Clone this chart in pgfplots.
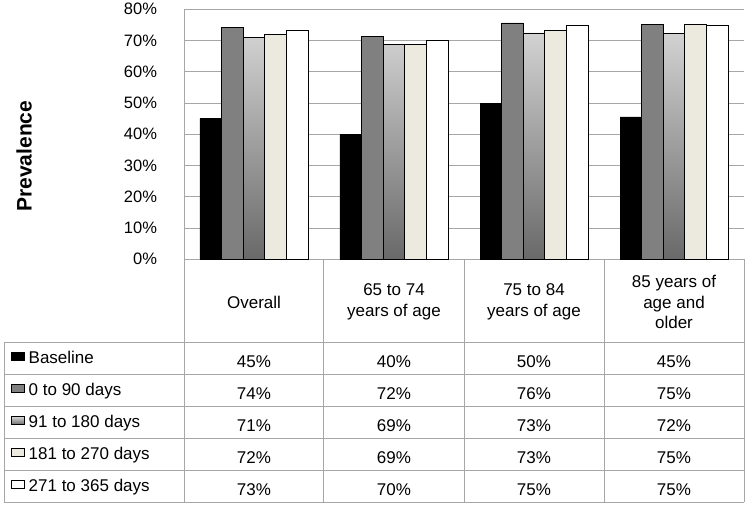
\documentclass[border=0pt]{standalone}
\usepackage{pgfplots}
\pgfplotsset{compat=1.18}
\usepackage{fontspec}
\setmainfont{Liberation Sans}
\definecolor{gridgray}{RGB}{166,166,166}
\definecolor{midgray}{RGB}{128,128,128}
\definecolor{beige}{RGB}{236,233,222}
\definecolor{gradtop}{RGB}{210,210,210}
\definecolor{gradbot}{RGB}{105,105,105}
\newcommand{\fs}{\fontsize{17}{20.7}\selectfont}
\newcommand{\ft}{\fontsize{16.5}{20}\selectfont}
\begin{document}
\begin{tikzpicture}
\begin{axis}[
  scale only axis, width=560pt, height=250pt,
  xmin=0, xmax=4, ymin=0, ymax=80,
  clip=false,
  axis x line*=bottom, axis y line*=left,
  axis line style={draw=gridgray, line width=0.8pt, -},
  xtick=\empty,
  ytick={0,10,...,80},
  yticklabel={\pgfmathprintnumber{\tick}\%},
  /pgf/number format/assume math mode=true,
  major tick length=0pt,
  ymajorgrids, grid style={draw=gridgray, line width=0.8pt},
  ticklabel style={font=\ft},
  yticklabel style={xshift=-23.5pt},
  ylabel={Prevalence},
  ylabel style={at={(axis description cs:-0.2857,0.412)}, anchor=center, font=\bfseries\fontsize{21}{25}\selectfont},
  ybar, bar width=0.1543,
  legend style={at={(axis cs:-1.2357,-26.56)}, anchor=north west, draw=none, fill=none,
    inner sep=0pt, row sep=0pt, column sep=3.7pt, font=\fs,
    nodes={inner ysep=0pt, inner xsep=0pt, text height=21.3pt, text depth=10.7pt}},
  legend cell align=left,
  legend image code/.code={\draw[#1, line width=0.8pt] (0pt,-0.22em) rectangle (13pt,0.55em);},
]
\addplot[draw=black, line width=0.8pt, fill=black, bar shift=-0.3086]
  coordinates {(0.5,45) (1.5,40) (2.5,49.7) (3.5,45.5)};
\addlegendentry{Baseline}
\addplot[draw=black, line width=0.8pt, fill=midgray, bar shift=-0.1543]
  coordinates {(0.5,74.2) (1.5,71.4) (2.5,75.6) (3.5,75.2)};
\addlegendentry{0 to 90 days}
\addplot[draw=black, line width=0.8pt, top color=gradtop, bottom color=gradbot, bar shift=0]
  coordinates {(0.5,71.0) (1.5,68.8) (2.5,72.4) (3.5,72.1)};
\addlegendentry{91 to 180 days}
\addplot[draw=black, line width=0.8pt, fill=beige, bar shift=0.1543]
  coordinates {(0.5,72.0) (1.5,68.8) (2.5,73.3) (3.5,75.2)};
\addlegendentry{181 to 270 days}
\addplot[draw=black, line width=0.8pt, fill=white, bar shift=0.3086]
  coordinates {(0.5,73.1) (1.5,69.9) (2.5,74.8) (3.5,74.8)};
\addlegendentry{271 to 365 days}

% table grid
\draw[gridgray, line width=0.8pt] (axis cs:-1.2857,-26.56) -- (axis cs:4,-26.56);
\draw[gridgray, line width=0.8pt] (axis cs:-1.2857,-36.8) -- (axis cs:4,-36.8);
\draw[gridgray, line width=0.8pt] (axis cs:-1.2857,-47.04) -- (axis cs:4,-47.04);
\draw[gridgray, line width=0.8pt] (axis cs:-1.2857,-57.28) -- (axis cs:4,-57.28);
\draw[gridgray, line width=0.8pt] (axis cs:-1.2857,-67.52) -- (axis cs:4,-67.52);
\draw[gridgray, line width=0.8pt] (axis cs:-1.2857,-77.76) -- (axis cs:4,-77.76);
\draw[gridgray, line width=0.8pt] (axis cs:-1.2857,-26.56) -- (axis cs:-1.2857,-77.76);
\draw[gridgray, line width=0.8pt] (axis cs:0,0) -- (axis cs:0,-77.76);
\draw[gridgray, line width=0.8pt] (axis cs:0.993,0) -- (axis cs:0.993,-77.76);
\draw[gridgray, line width=0.8pt] (axis cs:2.0036,0) -- (axis cs:2.0036,-77.76);
\draw[gridgray, line width=0.8pt] (axis cs:3,0) -- (axis cs:3,-77.76);
\draw[gridgray, line width=0.8pt] (axis cs:4,0) -- (axis cs:4,-77.76);

% header
\node[align=center, font=\fs] at (axis cs:0.5,-13.7) {Overall};
\node[align=center, font=\fs] at (axis cs:1.5,-13.7) {65 to 74\\years of age};
\node[align=center, font=\fs] at (axis cs:2.5,-13.7) {75 to 84\\years of age};
\node[align=center, font=\fs] at (axis cs:3.5,-13.7) {85 years of\\age and\\older};

% values
\node[anchor=base, font=\fs] at (axis cs:0.5,-34.72) {45\%};
\node[anchor=base, font=\fs] at (axis cs:1.5,-34.72) {40\%};
\node[anchor=base, font=\fs] at (axis cs:2.5,-34.72) {50\%};
\node[anchor=base, font=\fs] at (axis cs:3.5,-34.72) {45\%};
\node[anchor=base, font=\fs] at (axis cs:0.5,-44.96) {74\%};
\node[anchor=base, font=\fs] at (axis cs:1.5,-44.96) {72\%};
\node[anchor=base, font=\fs] at (axis cs:2.5,-44.96) {76\%};
\node[anchor=base, font=\fs] at (axis cs:3.5,-44.96) {75\%};
\node[anchor=base, font=\fs] at (axis cs:0.5,-55.2) {71\%};
\node[anchor=base, font=\fs] at (axis cs:1.5,-55.2) {69\%};
\node[anchor=base, font=\fs] at (axis cs:2.5,-55.2) {73\%};
\node[anchor=base, font=\fs] at (axis cs:3.5,-55.2) {72\%};
\node[anchor=base, font=\fs] at (axis cs:0.5,-65.44) {72\%};
\node[anchor=base, font=\fs] at (axis cs:1.5,-65.44) {69\%};
\node[anchor=base, font=\fs] at (axis cs:2.5,-65.44) {73\%};
\node[anchor=base, font=\fs] at (axis cs:3.5,-65.44) {75\%};
\node[anchor=base, font=\fs] at (axis cs:0.5,-75.68) {73\%};
\node[anchor=base, font=\fs] at (axis cs:1.5,-75.68) {70\%};
\node[anchor=base, font=\fs] at (axis cs:2.5,-75.68) {75\%};
\node[anchor=base, font=\fs] at (axis cs:3.5,-75.68) {75\%};

% bounding box
\path (axis cs:-1.3143,82.56) rectangle (axis cs:4.0571,-79.04);
\end{axis}
\end{tikzpicture}
\end{document}
